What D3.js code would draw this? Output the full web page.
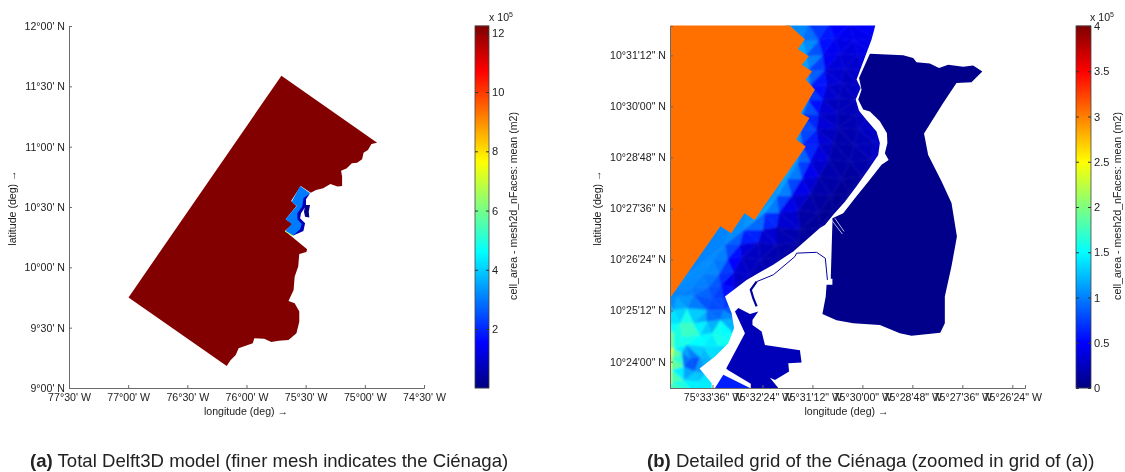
<!DOCTYPE html>
<html><head><meta charset="utf-8">
<script src="https://cdnjs.cloudflare.com/ajax/libs/d3/7.8.5/d3.min.js"></script>
<style>html,body{margin:0;padding:0;background:#fff}svg{display:block;font-family:"Liberation Sans",Arial,sans-serif;filter:blur(0.35px)}</style>
</head><body><svg id="c" width="1125" height="472"></svg>
<script>
// ---- Panel (a): lon/lat in decimal degrees, cell area in 1e5 m2
const latTicksA=[9,9.5,10,10.5,11,11.5,12];
const latLabelsA=["9°00' N","9°30' N","10°00' N","10°30' N","11°00' N","11°30' N","12°00' N"];
const lonTicksA=[-77.5,-77,-76.5,-76,-75.5,-75,-74.5];
const lonLabelsA=["77°30' W","77°00' W","76°30' W","76°00' W","75°30' W","75°00' W","74°30' W"];
const cbarTicksA=[2,4,6,8,10,12];
const coarseModel=[[-75.705,11.588],[-74.896,11.033],[-74.944,11.022],[-74.974,10.972],[-75.011,10.95],[-75.023,10.895],[-75.065,10.867],[-75.11,10.862],[-75.155,10.82],[-75.201,10.801],[-75.192,10.751],[-75.192,10.674],[-75.231,10.669],[-75.291,10.691],[-75.352,10.655],[-75.412,10.641],[-75.457,10.619],[-75.542,10.674],[-75.623,10.55],[-75.578,10.508],[-75.669,10.398],[-75.608,10.359],[-75.675,10.301],[-75.488,10.149],[-75.494,10.127],[-75.554,10.11],[-75.563,10.006],[-75.593,9.923],[-75.602,9.812],[-75.645,9.721],[-75.593,9.702],[-75.554,9.633],[-75.554,9.55],[-75.578,9.453],[-75.645,9.398],[-75.729,9.392],[-75.79,9.381],[-75.85,9.409],[-75.934,9.412],[-75.947,9.37],[-76.067,9.329],[-76.091,9.273],[-76.137,9.227],[-76.167,9.182],[-76.997,9.751]];
const fineSea=[[-75.547,10.674],[-75.463,10.613],[-75.505,10.572],[-75.519,10.503],[-75.562,10.448],[-75.562,10.398],[-75.519,10.359],[-75.542,10.309],[-75.609,10.262],[-75.674,10.296],[-75.618,10.359],[-75.669,10.398],[-75.576,10.508],[-75.618,10.544]];
const fineStrip=[[-75.463,10.613],[-75.497,10.564],[-75.497,10.508],[-75.539,10.448],[-75.547,10.406],[-75.505,10.365],[-75.519,10.301],[-75.609,10.262],[-75.547,10.315],[-75.533,10.359],[-75.57,10.398],[-75.57,10.448],[-75.528,10.508],[-75.519,10.572]];
const fineLake=[[-75.505,10.517],[-75.463,10.517],[-75.474,10.461],[-75.469,10.412],[-75.505,10.42],[-75.514,10.461]];
const fineEdge=[[-75.675,10.301],[-75.609,10.262]];
const valuesA={coarse:12.2,sea:3.0,strip:0.7,lake:0.12,edge:7};

// ---- Panel (b): lon = minutes west of 75°, lat = minutes north of 10°, area in 1e5 m2
const latTicksB=[24,25.2,26.4,27.6,28.8,30,31.2];
const latLabelsB=['10°24\'00" N','10°25\'12" N','10°26\'24" N','10°27\'36" N','10°28\'48" N','10°30\'00" N','10°31\'12" N'];
const lonTicksB=[33.6,32.4,31.2,30,28.8,27.6,26.4];
const lonLabelsB=['75°33\'36" W','75°32\'24" W','75°31\'12" W','75°30\'00" W','75°28\'48" W','75°27\'36" W','75°26\'24" W'];
const cbarTicksB=[0,0.5,1,1.5,2,2.5,3,3.5,4];
const cbarLabelsB=["0","0.5","1","1.5","2","2.5","3","3.5","4"];
const coarseCut=[[34.62,31.9],[31.75,31.9],[31.38,31.58],[31.55,31.35],[31.29,31.18],[31.45,30.98],[31.21,30.82],[31.36,30.63],[31.14,30.39],[31.48,29.84],[31.27,29.73],[31.59,29.22],[31.36,29.06],[32.59,27.33],[32.83,27.49],[33.15,27.02],[33.41,27.18],[34.62,25.49]];
const seaOutline=[[34.62,31.9],[29.69,31.9],[29.78,31.57],[30.14,30.63],[30.04,30.43],[30.16,30.16],[30.08,29.9],[29.9,29.68],[29.66,29.41],[29.58,29.14],[29.62,28.86],[29.86,28.51],[30.14,28.12],[30.42,27.76],[30.7,27.45],[30.9,27.21],[31.02,27.14],[31.66,26.59],[32.14,26.28],[32.78,25.92],[33.3,25.53],[33.14,25.14],[33.08,24.79],[33.22,24.43],[33.54,24.12],[33.91,23.84],[33.62,23.49],[33.62,23.38],[34.62,23.38]];
const lakeOutline=[[29.82,31.24],[29.02,31.2],[28.78,31.14],[28.7,31.04],[28.38,31.01],[28.16,30.9],[27.94,30.98],[27.58,30.93],[27.34,30.96],[27.12,30.82],[27.38,30.57],[27.74,30.55],[28.06,30.08],[28.52,29.36],[28.42,28.86],[28.1,28.24],[27.86,27.73],[27.73,26.94],[27.86,26.24],[28.02,25.53],[28.02,24.9],[28.13,24.68],[28.82,24.61],[29.1,24.67],[29.58,24.86],[30.22,24.9],[30.62,24.97],[30.96,25.12],[30.88,25.53],[30.86,25.81],[30.72,25.81],[30.72,25.95],[30.76,25.95],[30.72,27.26],[30.72,27.37],[30.46,27.49],[30.18,27.84],[29.86,28.23],[29.54,28.63],[29.37,28.74],[29.46,28.9],[29.4,29.14],[29.41,29.37],[29.58,29.65],[29.82,29.88],[29.98,29.93],[30.1,30.16],[30.02,30.39],[30.08,30.67]];
const southBasin=[[33.06,25.18],[32.98,25.26],[32.7,25.12],[32.5,25.18],[32.64,24.98],[32.64,24.86],[32.42,24.71],[32.34,24.39],[31.5,24.27],[31.46,23.98],[31.78,23.96],[31.76,23.77],[32.1,23.57],[32.22,23.62],[32.02,23.38],[32.68,23.38],[32.68,23.48],[33.22,23.8],[33.27,23.84],[32.82,24.67]];
const southPiece=[[33.54,23.38],[33.34,23.69],[32.7,23.38]];
const channelUpper=[[30.84,25.92],[30.89,26.43],[31.1,26.57],[31.58,26.55],[31.62,26.47],[32.14,26.04],[32.54,25.88]];
const channelLower=[[32.54,25.88],[32.68,25.69],[32.62,25.49],[32.54,25.3]];
const jettyLines=[[[30.66,27.37],[30.44,27.06]],[[30.74,27.33],[30.48,27.0]]];
const valuesB={coarse:3.06,lake:0.04,basin:0.22,piece:0.62,channel:0.12};
const meshNodes=[
[31.8,31.95,1],[31.3,31.95,.85],[30.8,31.95,.6],[30.3,31.95,.5],[29.6,31.95,.55],
[31.45,31.55,1.25],[31.05,31.55,.7],[30.65,31.6,.45],[30.2,31.55,.4],[29.7,31.6,.4],
[31.35,31.2,1.2],[30.95,31.2,.55],[30.55,31.25,.35],[30.1,31.2,.35],[29.75,31.25,.45],
[31.3,30.85,1.25],[30.9,30.85,.45],[30.45,30.9,.28],[30,30.85,.3],
[31.25,30.5,.9],[30.85,30.5,.4],[30.5,30.55,.22],[30.05,30.5,.3],
[31.3,30.15,.9],[30.95,30.15,.35],[30.55,30.2,.22],[30.15,30.15,.28],
[31.45,29.8,1.1],[31.05,29.8,.45],[30.6,29.85,.18],[30.15,29.8,.22],[29.8,29.85,.28],
[31.5,29.45,.9],[31.1,29.45,.4],[30.6,29.5,.18],[30.1,29.45,.22],[29.6,29.5,.32],
[31.45,29.1,1],[31.05,29.1,.45],[30.7,29.15,.18],[30.2,29.1,.18],[29.7,29.15,.26],[29.45,29.05,.35],
[31.55,28.7,1.15],[31.25,28.7,.5],[30.8,28.75,.2],[30.3,28.7,.15],[29.8,28.75,.22],[29.45,28.6,.35],
[31.8,28.3,1.25],[31.45,28.3,.55],[31.05,28.35,.25],[30.5,28.3,.12],[30,28.35,.13],[29.7,28.2,.18],
[32.05,27.9,1.25],[31.7,27.9,.5],[31.25,27.95,.22],[30.75,27.9,.09],[30.3,27.95,.09],
[32.35,27.5,1.15],[32,27.5,.55],[31.55,27.55,.22],[31.05,27.5,.09],[30.7,27.55,.09],
[32.85,27.1,1.1],[32.4,27.1,.5],[32.05,27.15,.28],[31.5,27.1,.14],[31,27.15,.09],[30.6,27.1,.09],
[33.3,26.75,1.05],[32.95,26.75,.45],[32.5,26.8,.28],[32.05,26.75,.2],[31.55,26.8,.14],[31.1,26.7,.09],
[33.6,26.4,1.1],[33.25,26.4,.85],[32.9,26.45,.32],[32.45,26.4,.22],[32,26.45,.16],[31.6,26.35,.13],
[33.85,26.05,1.05],[33.45,26.05,.95],[33.1,26.1,.38],[32.7,26.05,.22],[32.3,26.1,.2],
[34.1,25.75,1.05],[33.7,25.75,.9],[33.4,25.8,.7],[33.1,25.75,.28],[32.8,25.7,.22],
[34.46,25.52,1],[34.06,25.56,.95],[33.62,25.48,.85],[33.34,25.48,.7],[33,25.4,.6],
[34.54,25.21,1.15],[34.22,25.25,1.3],[33.74,25.21,.7],[33.34,25.21,.85],[33,25,1.1],
[34.38,24.9,1.55],[34.06,24.9,1.9],[33.74,24.94,.95],[33.42,24.97,1.2],
[34.54,24.66,1.55],[34.3,24.58,1.75],[33.9,24.62,1.5],[33.62,24.66,1.45],[33.38,24.58,2],[33.14,24.7,1.3],
[34.54,24.31,1.5],[34.22,24.39,1.5],[33.82,24.35,1.5],[33.46,24.35,1.35],[33,24.4,1.3],
[34.58,24.07,2.8],[34.34,24.19,1.3],[34.14,24.07,.6],[33.9,24.11,.9],[33.62,24.07,1.3],[33.3,23.9,1.4],
[34.58,23.8,1.9],[34.3,23.88,.95],[34.02,23.76,1],[33.74,23.72,1.4],
[34.58,23.49,1.9],[34.3,23.56,1.5],[33.94,23.52,1.4],[33.62,23.37,1.45],
[34.8,25.6,1],[34.8,24.9,1.5],[34.8,24.3,2.8],[34.8,23.9,2.8],[34.8,23.2,1.9],[34,23.2,1.45],[33.4,23.2,1.45]
];

const captionA={tag:"(a)",text:" Total Delft3D model (finer mesh indicates the Ciénaga)"};
const captionB={tag:"(b)",text:" Detailed grid of the Ciénaga (zoomed in grid of (a))"};
const labelLon="longitude (deg) →", labelLat="latitude (deg) →", labelBar="cell_area - mesh2d_nFaces: mean (m2)";

// ---- layout + helpers
const svg=d3.select("#c");
const top_=26,bot=388,axisCol="#6a6a6a",txt="#222",fs=10.6;
const jet=t=>{const c=v=>Math.round(255*Math.max(0,Math.min(1,v)));
  return d3.rgb(c(Math.min(4*t-1.5,-4*t+4.5)),c(Math.min(4*t-.5,-4*t+3.5)),c(Math.min(4*t+.5,-4*t+2.5))).formatHex();};
const colA=d3.scaleSequential(jet).domain([0.01,12.23]);
const colB=d3.scaleSequential(jet).domain([0,4]);
const xA=d3.scaleLinear([-77.5,-74.5],[69,424]), yA=d3.scaleLinear([9,12],[bot,top_]);
const xB=d3.scaleLinear([34.62,26.095],[670,1025]), yB=d3.scaleLinear([23.38,31.89],[bot,top_]);
const lineA=d3.line().x(d=>xA(d[0])).y(d=>yA(d[1]));
const lineB=d3.line().x(d=>xB(d[0])).y(d=>yB(d[1]));
const polyA=(pts,v)=>svg.append("path").attr("d",lineA(pts)+"Z").attr("fill",colA(v));

function axes(x,y,lonT,lonL,latT,latL,lonX,latX){
  const gx=svg.append("g").attr("transform",`translate(0,${bot})`).call(d3.axisBottom(x).tickValues(lonT).tickFormat((d,i)=>lonL[i]).tickSize(-3).tickPadding(5));
  const gy=svg.append("g").attr("transform",`translate(${x.range()[0]},0)`).call(d3.axisLeft(y).tickValues(latT).tickFormat((d,i)=>latL[i]).tickSize(-3).tickPadding(4));
  [gx,gy].forEach(g=>{g.attr("font-family",null).attr("font-size",fs);g.selectAll("path,line").attr("stroke",axisCol);g.selectAll("text").attr("fill",txt);});
  svg.append("text").attr("x",lonX).attr("y",415).attr("text-anchor","middle").attr("font-size",fs).attr("fill",txt).text(labelLon);
  svg.append("text").attr("transform",`translate(${latX},208) rotate(-90)`).attr("text-anchor","middle").attr("font-size",fs).attr("fill",txt).text(labelLat);
}
function colorbar(col,x0,x1,ticks,fmt,labX,expX){
  const y=d3.scaleLinear(col.domain(),[bot,top_]);
  const g=svg.append("g");
  g.selectAll("rect").data(d3.range(bot,top_,-1)).join("rect").attr("x",x0).attr("width",x1-x0).attr("y",d=>d-1.4).attr("height",1.6).attr("fill",d=>col(y.invert(d-.5)));
  svg.append("rect").attr("x",x0).attr("y",top_).attr("width",x1-x0).attr("height",bot-top_).attr("fill","none").attr("stroke","#444").attr("stroke-width",.8);
  const r=svg.append("g").attr("transform",`translate(${x1},0)`).call(d3.axisRight(y).tickValues(ticks).tickFormat(fmt).tickSize(-3).tickPadding(3));
  const l=svg.append("g").attr("transform",`translate(${x0},0)`).call(d3.axisLeft(y).tickValues(ticks).tickFormat("").tickSize(-3));
  [r,l].forEach(a=>{a.attr("font-family",null).attr("font-size",fs+.5);a.select("path").remove();a.selectAll("line").attr("stroke","#333");a.selectAll("text").attr("fill",txt);});
  svg.append("text").attr("transform",`translate(${labX},206) rotate(-90)`).attr("text-anchor","middle").attr("font-size",fs).attr("fill",txt).text(labelBar);
  const e=svg.append("text").attr("x",expX).attr("y",21).attr("font-size",fs).attr("fill",txt);
  e.append("tspan").text("x 10");e.append("tspan").attr("dy",-4).attr("font-size",7).text("5");
}
function caption(c,x){
  const t=svg.append("text").attr("x",x).attr("y",467).attr("font-size",18.6).attr("fill",txt);
  t.append("tspan").attr("font-weight","bold").text(c.tag);t.append("tspan").text(c.text);
}

// ---- panel (a)
polyA(coarseModel,valuesA.coarse);
polyA(fineSea,valuesA.sea);
polyA(fineStrip,valuesA.strip);
polyA(fineLake,valuesA.lake);
svg.append("path").attr("d",lineA(fineEdge)).attr("fill","none").attr("stroke",colA(valuesA.edge)).attr("stroke-width",1);
axes(xA,yA,lonTicksA,lonLabelsA,latTicksA,latLabelsA,246,16);
colorbar(colA,475,489,cbarTicksA,d=>d,517,489);
caption(captionA,30);

// ---- panel (b)
const defs=svg.append("defs");
defs.append("clipPath").attr("id","sea").append("path").attr("d",lineB(seaOutline)+"Z");
defs.append("filter").attr("id","soft").attr("filterUnits","userSpaceOnUse").attr("x",650).attr("y",10).attr("width",250).attr("height",400)
  .append("feGaussianBlur").attr("stdDeviation",0.9);
const del=d3.Delaunay.from(meshNodes,d=>xB(d[0]),d=>yB(d[1]));
const tris=[];for(let i=0;i<del.triangles.length;i+=3)tris.push([del.triangles[i],del.triangles[i+1],del.triangles[i+2]]);
svg.append("g").attr("clip-path","url(#sea)").append("g").attr("filter","url(#soft)").selectAll("path").data(tris).join("path")
  .attr("d",t=>"M"+t.map(i=>[xB(meshNodes[i][0]),yB(meshNodes[i][1])].join(",")).join("L")+"Z")
  .each(function(t){const v=d3.mean(t,i=>meshNodes[i][2]);d3.select(this).attr("fill",colB(v)).attr("stroke",colB(v)).attr("stroke-width",.5);});
const polyB=(pts,v)=>svg.append("path").attr("d",lineB(pts)+"Z").attr("fill",colB(v));
polyB(coarseCut,valuesB.coarse);
polyB(lakeOutline,valuesB.lake);
polyB(southBasin,valuesB.basin);
polyB(southPiece,valuesB.piece);
svg.append("path").attr("d",lineB(channelUpper)).attr("fill","none").attr("stroke",colB(valuesB.channel)).attr("stroke-width",1);
svg.append("path").attr("d",lineB(channelLower)).attr("fill","none").attr("stroke",colB(valuesB.channel)).attr("stroke-width",2.2);
jettyLines.forEach(l=>svg.append("path").attr("d",lineB(l)).attr("fill","none").attr("stroke","#dfe0f0").attr("stroke-width",.8));
axes(xB,yB,lonTicksB,lonLabelsB,latTicksB,latLabelsB,846.5,601);
colorbar(colB,1076,1091,cbarTicksB,(d,i)=>cbarLabelsB[i],1121,1090);
caption(captionB,647);
</script></body></html>
